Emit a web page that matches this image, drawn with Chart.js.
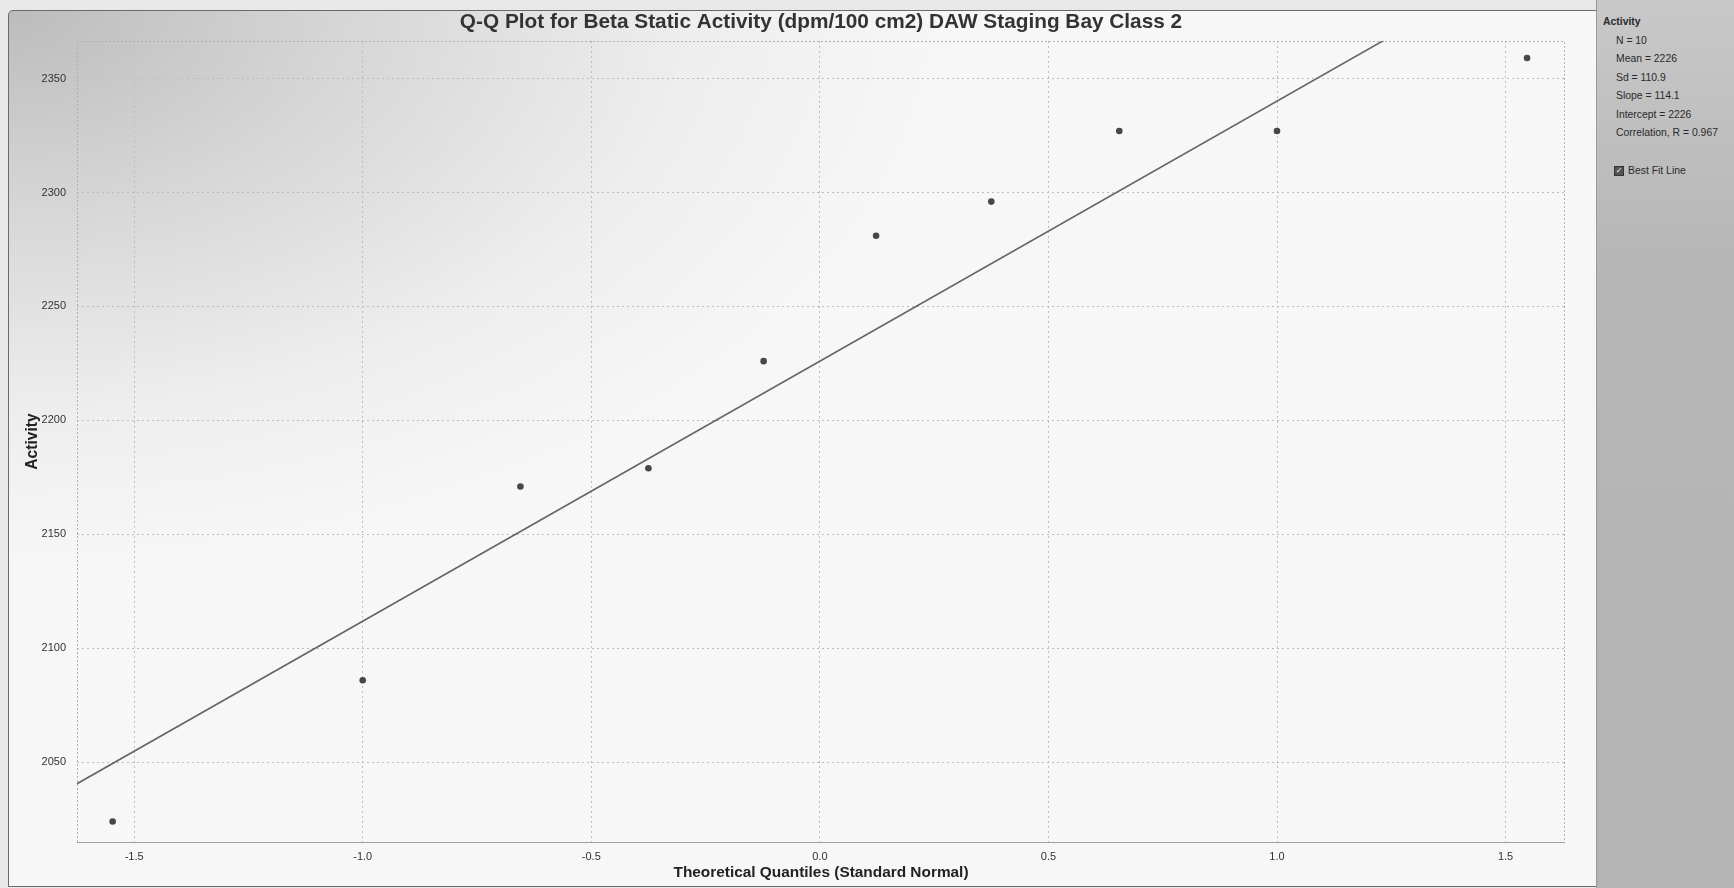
<!DOCTYPE html>
<html>
<head>
<meta charset="utf-8">
<title>Q-Q Plot</title>
<script src="https://cdn.jsdelivr.net/npm/chart.js@4.4.1/dist/chart.umd.min.js"></script>
<style>
  html, body { margin: 0; padding: 0; }
  body {
    width: 1734px; height: 888px; position: relative; overflow: hidden;
    background: #e8e8e8;
    font-family: "Liberation Sans", Arial, sans-serif;
  }
  #frame {
    position: absolute; left: 8px; top: 10px; width: 1587px; height: 875px;
    border: 1px solid #6a6a6a; border-radius: 5px 0 0 0;
    background: radial-gradient(ellipse 950px 560px at 0 0, #bcbcbc 0%, #d6d6d6 35%, #eeeeee 72%, #f7f7f7 100%);
  }
  #qq { position: absolute; left: 0; top: 0; }
  #panel {
    position: absolute; left: 1596px; top: 0; width: 138px; height: 888px;
    background: linear-gradient(#c8c8c8, #b6b6b6 30%, #b4b4b4);
    border-left: 1px solid #9a9a9a; box-sizing: border-box;
    color: #2a2a2a;
  }
  #panel .t { position: absolute; white-space: nowrap; font-size: 10.4px; line-height: 12px; }
  #panel .head { font-weight: bold; }
  #panel .box {
    position: absolute; width: 10px; height: 10px; background: #555; border: 1px solid #333;
    box-sizing: border-box; color: #fff; font-size: 8px; line-height: 8px; text-align: center;
    font-family: "DejaVu Sans", sans-serif;
  }
</style>
</head>
<body>
<div id="frame"></div>
<canvas id="qq" width="1734" height="888"></canvas>
<div id="panel"></div>
<script>
// Normal-score quantiles and the sorted activity readings (dpm/100 cm2)
const theoreticalQuantiles = [-1.547, -1.000, -0.655, -0.375, -0.123, 0.123, 0.375, 0.655, 1.000, 1.547];
const activityValues = [2024, 2086, 2171, 2179, 2226, 2281, 2296, 2327, 2327, 2359];

// Best fit line parameters
const fitSlope = 114.1;
const fitIntercept = 2226;

// Axis ranges and tick values
const xRange = [-1.625, 1.63];
const yRange = [2015, 2366.5];
const xTickValues = [-1.5, -1.0, -0.5, 0.0, 0.5, 1.0, 1.5];
const yTickValues = [2050, 2100, 2150, 2200, 2250, 2300, 2350];

// Summary panel text
const seriesName = 'Activity';
const statsLines = ['N = 10', 'Mean = 2226', 'Sd = 110.9', 'Slope = 114.1', 'Intercept = 2226', 'Correlation, R = 0.967'];
const fitToggleLabel = 'Best Fit Line';

const chartTitle = 'Q-Q Plot for Beta Static Activity (dpm/100 cm2) DAW Staging Bay Class 2';
const xAxisTitle = 'Theoretical Quantiles (Standard Normal)';
const yAxisTitle = 'Activity';

Chart.defaults.font.family = '"Liberation Sans", Arial, sans-serif';

const points = theoreticalQuantiles.map((q, i) => ({ x: q, y: activityValues[i] }));
const fitLine = xRange.map(x => ({ x: x, y: fitIntercept + fitSlope * x }));

// Dotted frame around the plotting area with a solid base line
const plotFrame = {
  id: 'plotFrame',
  beforeDatasetsDraw(chart) {
    const { ctx, chartArea: a } = chart;
    ctx.save();
    ctx.strokeStyle = '#b0b0b0';
    ctx.lineWidth = 1;
    ctx.setLineDash([2, 2]);
    ctx.beginPath();
    ctx.moveTo(a.left + 0.5, a.bottom);
    ctx.lineTo(a.left + 0.5, a.top + 0.5);
    ctx.lineTo(a.right - 0.5, a.top + 0.5);
    ctx.lineTo(a.right - 0.5, a.bottom);
    ctx.stroke();
    ctx.setLineDash([]);
    ctx.strokeStyle = '#a0a0a0';
    ctx.beginPath();
    ctx.moveTo(a.left, a.bottom + 0.5);
    ctx.lineTo(a.right, a.bottom + 0.5);
    ctx.stroke();
    ctx.restore();
  }
};

new Chart(document.getElementById('qq'), {
  type: 'scatter',
  data: {
    datasets: [
      {
        label: seriesName,
        data: points,
        pointRadius: 3.3,
        pointBackgroundColor: '#474747',
        pointBorderColor: '#474747',
        pointBorderWidth: 0,
        order: 1
      },
      {
        type: 'line',
        label: fitToggleLabel,
        data: fitLine,
        borderColor: '#646464',
        borderWidth: 1.6,
        pointRadius: 0,
        fill: false,
        tension: 0,
        order: 2
      }
    ]
  },
  options: {
    responsive: false,
    animation: false,
    devicePixelRatio: 1,
    layout: { padding: { left: 0, right: 169, top: 0, bottom: 0 } },
    plugins: {
      legend: { display: false },
      tooltip: { enabled: false },
      title: {
        display: true,
        text: chartTitle,
        fullSize: false,
        color: '#333333',
        font: { size: 20.8, weight: 'bold' },
        padding: { top: 9.5, bottom: 6.5 }
      }
    },
    scales: {
      x: {
        type: 'linear',
        min: xRange[0],
        max: xRange[1],
        afterBuildTicks: s => { s.ticks = xTickValues.map(v => ({ value: v })); },
        afterFit: s => { s.height = 46; },
        ticks: {
          callback: v => Number(v).toFixed(1),
          color: '#333333',
          font: { size: 11 },
          padding: 8,
          maxRotation: 0,
          autoSkip: false
        },
        grid: { color: '#bdbdbd', lineWidth: 1, drawTicks: false },
        border: { display: false, dash: [2, 3] },
        title: {
          display: true,
          text: xAxisTitle,
          color: '#222222',
          font: { size: 15.4, weight: 'bold' },
          padding: { top: 0, bottom: 5.8 }
        }
      },
      y: {
        type: 'linear',
        min: yRange[0],
        max: yRange[1],
        afterBuildTicks: s => { s.ticks = yTickValues.map(v => ({ value: v })); },
        afterFit: s => { s.width = 77; },
        ticks: {
          callback: v => String(v),
          color: '#333333',
          font: { size: 11 },
          padding: 11,
          autoSkip: false
        },
        grid: { color: '#bdbdbd', lineWidth: 1, drawTicks: false },
        border: { display: false, dash: [2, 3] },
        title: {
          display: true,
          text: yAxisTitle,
          color: '#222222',
          font: { size: 15.6, weight: 'bold' },
          padding: { top: 23.6, bottom: 0 }
        }
      }
    }
  },
  plugins: [plotFrame]
});

// Summary panel on the right
const panel = document.getElementById('panel');
function addLine(text, left, centerY, cls) {
  const el = document.createElement('div');
  el.className = 't' + (cls ? ' ' + cls : '');
  el.textContent = text;
  el.style.left = left + 'px';
  el.style.top = (centerY - 6) + 'px';
  panel.appendChild(el);
}
addLine(seriesName, 6, 22, 'head');
statsLines.forEach((s, i) => addLine(s, 19, 41 + i * 18.4));
const box = document.createElement('div');
box.className = 'box';
box.textContent = '\u2713';
box.style.left = '17px';
box.style.top = '166px';
panel.appendChild(box);
addLine(fitToggleLabel, 31, 171);
</script>
</body>
</html>
